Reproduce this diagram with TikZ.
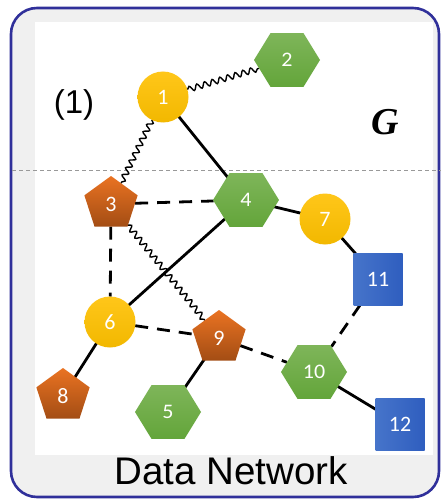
\documentclass[tikz,border=0pt]{standalone}
\usepackage{fontspec}
\setmainfont{Liberation Sans}
\newfontfamily\numfont{Carlito}
\newfontfamily\serifbi{Liberation Serif}
\usetikzlibrary{shapes.geometric,decorations.pathmorphing}

\pgfdeclarelayer{panel}
\pgfdeclarelayer{edges}
\pgfsetlayers{panel,edges,main}

\definecolor{frameblue}{HTML}{30309A}
\definecolor{panelgray}{HTML}{F0F0F0}
\definecolor{cyel}{HTML}{FFC000}
\definecolor{cyeldark}{HTML}{F2B800}
\definecolor{hgreen}{HTML}{70AD47}
\definecolor{hgreendark}{HTML}{63A53A}
\definecolor{porange}{HTML}{EA7322}
\definecolor{porangedark}{HTML}{A34D14}
\definecolor{sblue}{HTML}{4674CA}
\definecolor{sbluedark}{HTML}{2F5EBF}

\tikzset{
  every node/.style={inner sep=0pt, outer sep=0pt},
  lbl/.style={text=white, font=\numfont\fontsize{22}{22}\selectfont},
  circnode/.style={lbl, circle, minimum size=51pt, top color=cyel!90!white, bottom color=cyeldark},
  hexnode/.style={lbl, regular polygon, regular polygon sides=6, minimum size=66pt,
                  yscale=0.94, top color=hgreen!90!white, bottom color=hgreendark},
  pentnode/.style={lbl, regular polygon, regular polygon sides=5, minimum size=56pt,
                   top color=porange, bottom color=porangedark},
  sqnode/.style={lbl, rectangle, minimum width=49pt, minimum height=52pt,
                 left color=sblue, right color=sbluedark},
  link/.style={line width=2.8pt, black},
  weak/.style={line width=2.8pt, black, dash pattern=on 13pt off 9pt},
  wave/.style={line width=1.4pt, black, decorate,
               decoration={snake, segment length=8pt, amplitude=2.8pt}},
}

\begin{document}
\begin{tikzpicture}[x=1pt, y=-1pt]
  \useasboundingbox (0,0) rectangle (441,500);

  % outer panel, white drawing area and separator line
  \begin{pgfonlayer}{panel}
    \draw[frameblue, line width=2.6pt, fill=panelgray, rounded corners=26pt]
      (11,8) rectangle (439,497);
    \fill[white] (35,22) rectangle (433,455);
    \draw[gray!80, line width=0.6pt, dash pattern=on 4pt off 3pt] (12,170) -- (441,170);
  \end{pgfonlayer}

  % nodes
  \node[circnode] (n1) at (163,97) {1};
  \node[hexnode]  (n2) at (287,60) {2};
  \node[pentnode] (n3) at (111,204) {3};
  \node[hexnode]  (n4) at (246,200) {4};
  \node[circnode] (n7) at (325,219) {7};
  \node[sqnode]   (n11) at (378,279) {11};
  \node[circnode] (n6) at (110,322) {6};
  \node[pentnode] (n9) at (219,338) {9};
  \node[hexnode]  (n10) at (314,372) {10};
  \node[pentnode] (n8) at (63,396) {8};
  \node[hexnode]  (n5) at (168,412) {5};
  \node[sqnode]   (n12) at (400,424) {12};

  % labels
  \node (tag) at (74,105) {\fontsize{33}{33}\selectfont (1)};
  \node (gname) at (385,122) {\serifbi\bfseries\itshape\fontsize{38}{38}\selectfont G};
  \node (title) at (231,471) {\fontsize{38.5}{38.5}\selectfont Data Network};

  % connectors, drawn behind the nodes
  \begin{pgfonlayer}{edges}
    \draw[link] (n1.center) -- (n4.center);
    \draw[link] (n4.center) -- (n7.center);
    \draw[link] (n7.center) -- (n11.center);
    \draw[link] (n4.center) -- (n6.center);
    \draw[link] (n6.center) -- (n8.center);
    \draw[link] (n9.center) -- (n5.center);
    \draw[link] (n10.center) -- (n12.center);
    \draw[weak] (n3) -- (n4);
    \draw[weak] (n3) -- (n6);
    \draw[weak] (n6) -- (n9);
    \draw[weak] (n9) -- (n10);
    \draw[weak] (n11) -- (n10);
    \draw[wave] (n1) -- (n2);
    \draw[wave] (n1) -- (n3);
    \draw[wave] (n3) -- (n9);
  \end{pgfonlayer}
\end{tikzpicture}
\end{document}
